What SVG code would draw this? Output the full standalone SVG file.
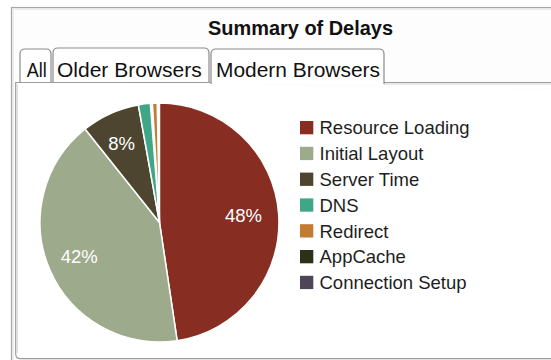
<svg xmlns="http://www.w3.org/2000/svg" width="551" height="360" viewBox="0 0 551 360">
  <style>
    .title { font-family: "Liberation Sans", Arial, sans-serif; font-size: 20px; font-weight: bold; fill: #111; }
    .tab { fill: #fff; stroke: #8c8c8c; stroke-width: 1.2; }
    .tabtxt { font-family: "Liberation Sans", Arial, sans-serif; font-size: 20px; fill: #111; }
    .slice { stroke: #fff; stroke-width: 1.5; stroke-linejoin: round; }
    .pct { font-family: "Liberation Sans", Arial, sans-serif; font-size: 18.5px; fill: #fff; }
    .lg { font-family: "Liberation Sans", Arial, sans-serif; font-size: 18.5px; fill: #1e1e1e; }
  </style>

  <rect width="551" height="360" fill="#fff"/>

  <!-- outer window frame -->
  <g id="frame">
    <rect x="11.5" y="7.5" width="560" height="370" fill="#fdfdfd" stroke="#a6a6a6" stroke-width="1.2"/>
    <rect x="13" y="9" width="560" height="370" fill="none" stroke="#dedede" stroke-width="1"/>
  </g>

  <g id="title">
    <text class="title" x="300.5" y="35" text-anchor="middle" textLength="185" lengthAdjust="spacingAndGlyphs">Summary of Delays</text>
  </g>

  <!-- content panel under the tab strip -->
  <g id="panel">
    <path d="M15.7,82 V354 Q15.7,358.7 20.4,358.7 H560 V90 M384,82.5 H560" fill="#fff" stroke="#9c9c9c" stroke-width="1.2"/>
    <path d="M17.3,84 V353" fill="none" stroke="#d6d6d6" stroke-width="1"/>
    <path d="M384,84 H560" fill="none" stroke="#d6d6d6" stroke-width="1"/>
  </g>

  <!-- tab strip -->
  <g id="tab-all">
    <path class="tab" d="M20,82.5 V54 Q20,49 25,49 H46 Q51,49 51,54 V82.5 Z"/>
    <text class="tabtxt" x="26.7" y="76.7" textLength="20" lengthAdjust="spacingAndGlyphs">All</text>
  </g>
  <g id="tab-older">
    <path class="tab" d="M53,82.5 V53 Q53,48 58,48 H204 Q209,48 209,53 V82.5 Z"/>
    <text class="tabtxt" x="57" y="76.7" textLength="144.7" lengthAdjust="spacingAndGlyphs">Older Browsers</text>
  </g>
  <g id="tab-modern">
    <path d="M211,84 V54 Q211,49 216,49 H379 Q384,49 384,54 V84" fill="#fff" stroke="#8c8c8c" stroke-width="1.2"/>
    <text class="tabtxt" x="216" y="77" textLength="164" lengthAdjust="spacingAndGlyphs">Modern Browsers</text>
  </g>
  <path d="M15.7,82.5 H211" fill="none" stroke="#9c9c9c" stroke-width="1.2"/>

  <!-- pie chart, centre (159.5, 222.5), r = 119.5 -->
  <g id="pie">
    <path id="slice-resource-loading" class="slice" fill="#872d22" d="M159.5,222.5 L159.5,103 A119.5,119.5 0 0 1 177.16,340.68 Z"/>
    <path id="slice-initial-layout" class="slice" fill="#9eaa8c" d="M159.5,222.5 L177.16,340.68 A119.5,119.5 0 0 1 85.11,128.98 Z"/>
    <path id="slice-server-time" class="slice" fill="#4e4530" d="M159.5,222.5 L85.11,128.98 A119.5,119.5 0 0 1 138.34,104.89 Z"/>
    <path id="slice-dns" class="slice" fill="#3fa688" d="M159.5,222.5 L138.34,104.89 A119.5,119.5 0 0 1 150.33,103.35 Z"/>
    <path id="slice-redirect" class="slice" fill="#c27b30" d="M159.5,222.5 L152.41,103.21 A119.5,119.5 0 0 1 157.2,103.02 Z"/>
    <text class="pct" x="225" y="221.7">48%</text>
    <text class="pct" x="60.7" y="263.3">42%</text>
    <text class="pct" x="108.3" y="150">8%</text>
  </g>

  <!-- legend -->
  <g id="legend">
    <g id="lg-resource-loading">
      <rect x="300" y="121" width="13.3" height="13.3" fill="#872d22"/>
      <text class="lg" x="319.5" y="134.3">Resource Loading</text>
    </g>
    <g id="lg-initial-layout">
      <rect x="300" y="146.8" width="13.3" height="13.3" fill="#9eaa8c"/>
      <text class="lg" x="319.5" y="160.1">Initial Layout</text>
    </g>
    <g id="lg-server-time">
      <rect x="300" y="172.6" width="13.3" height="13.3" fill="#4e4530"/>
      <text class="lg" x="319.5" y="185.9">Server Time</text>
    </g>
    <g id="lg-dns">
      <rect x="300" y="198.4" width="13.3" height="13.3" fill="#3fa688"/>
      <text class="lg" x="319.5" y="211.7">DNS</text>
    </g>
    <g id="lg-redirect">
      <rect x="300" y="224.2" width="13.3" height="13.3" fill="#c27b30"/>
      <text class="lg" x="319.5" y="237.5">Redirect</text>
    </g>
    <g id="lg-appcache">
      <rect x="300" y="250" width="13.3" height="13.3" fill="#2c3218"/>
      <text class="lg" x="319.5" y="263.3">AppCache</text>
    </g>
    <g id="lg-connection-setup">
      <rect x="300" y="275.8" width="13.3" height="13.3" fill="#4f4558"/>
      <text class="lg" x="319.5" y="289.1">Connection Setup</text>
    </g>
  </g>
</svg>
